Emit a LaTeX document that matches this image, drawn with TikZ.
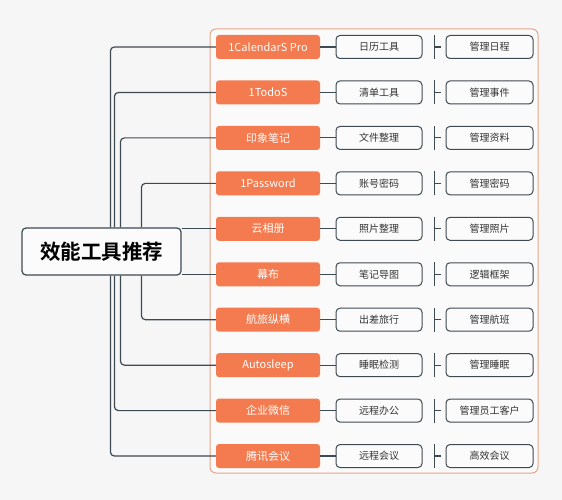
\documentclass[tikz,border=0pt]{standalone}
\usepackage{fontspec}
\newfontfamily\cjk{Noto Sans CJK SC}[BoldFont={Noto Sans CJK SC Bold}]
\definecolor{bg}{HTML}{F6F6F6}
\definecolor{orng}{HTML}{F47B4F}
\definecolor{frame}{HTML}{E6A58A}
\definecolor{lin}{HTML}{3E4A52}
\definecolor{txt}{HTML}{333333}
\begin{document}
\begin{tikzpicture}[x=1pt,y=-1pt,
  appbox/.style={fill=orng,rounded corners=3pt,minimum width=104pt,minimum height=24pt,inner sep=0pt,text=white,font=\cjk\fontsize{11}{12}\selectfont},
  tagbox/.style={draw=lin,line width=1pt,fill=white!60!bg,rounded corners=4pt,minimum width=86pt,minimum height=23pt,inner sep=0pt,text=txt,font=\cjk\fontsize{10}{12}\selectfont},
  conn/.style={draw=lin,line width=1.2pt,rounded corners=4pt},
  sepline/.style={draw=lin,line width=1.2pt},
  hubbox/.style={draw=lin,line width=1.2pt,fill=white!60!bg,rounded corners=4pt,minimum width=159pt,minimum height=47pt,inner sep=0pt,text=black,font=\cjk\bfseries\fontsize{20.5}{24}\selectfont}]
\useasboundingbox (0,0) rectangle (562,500);
\fill[bg] (0,0) rectangle (562,500);
\draw[frame,line width=1pt,rounded corners=6pt,fill=white!40!bg] (210,29) rectangle (538,473);
\node[hubbox] (hub) at (101.5,251.5) {效能工具推荐};
\foreach \i/\a/\b/\c in {1/1CalendarS Pro/日历工具/管理日程,2/1TodoS/清单工具/管理事件,3/印象笔记/文件整理/管理资料,4/1Password/账号密码/管理密码,5/云相册/照片整理/管理照片,6/幕布/笔记导图/逻辑框架,7/航旅纵横/出差旅行/管理航班,8/Autosleep/睡眠检测/管理睡眠,9/企业微信/远程办公/管理员工客户,10/腾讯会议/远程会议/高效会议}{
  \pgfmathsetmacro{\yy}{47+45.45*(\i-1)}
  \node[appbox] (o\i) at (268,\yy) {\a};
  \node[tagbox] (m\i) at (379,\yy) {\b};
  \node[tagbox,minimum width=87pt] (r\i) at (489.5,\yy) {\c};
  \draw[sepline] (o\i.east) -- (m\i.west);
  \draw[sepline] ([xshift=12pt,yshift=-12pt]m\i.east) -- ([xshift=12pt,yshift=12pt]m\i.east);
  \draw[sepline] ([xshift=12pt]m\i.east) -- ([xshift=18pt]m\i.east);
}
\foreach \i/\d in {1/89,2/93,3/99,4/120}{
  \draw[conn] ([xshift=\d pt]hub.north west) |- (o\i.west);
}
\foreach \i/\d in {10/89,9/93,8/99,7/120}{
  \draw[conn] ([xshift=\d pt]hub.south west) |- (o\i.west);
}
\draw[conn] (hub.east |- o5.west) -- (o5.west);
\draw[conn] (hub.east |- o6.west) -- (o6.west);
\end{tikzpicture}
\end{document}
